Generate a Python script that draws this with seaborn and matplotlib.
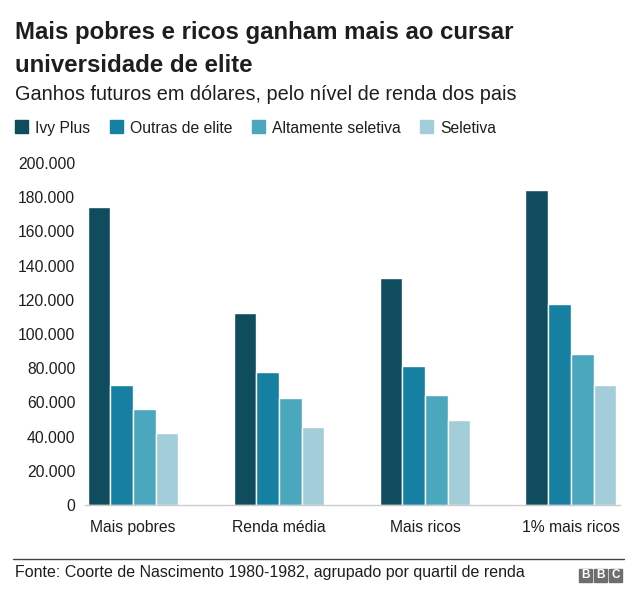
import pandas as pd
import matplotlib.pyplot as plt
import seaborn as sns
from matplotlib.patches import Rectangle
from matplotlib.lines import Line2D

# Data (earnings in dollars)
groups = ["Mais pobres", "Renda média", "Mais ricos", "1% mais ricos"]
series = ["Ivy Plus", "Outras de elite", "Altamente seletiva", "Seletiva"]
ivy_plus = [174000, 112500, 133000, 184500]
outras_elite = [70000, 77500, 81500, 117500]
altamente_seletiva = [56000, 62500, 64500, 88500]
seletiva = [42000, 45500, 50000, 70000]
y_ticks = [0, 20000, 40000, 60000, 80000, 100000, 120000, 140000, 160000, 180000, 200000]

colors = ["#0f4c5e", "#1680a3", "#4ba7bd", "#a2cdd9"]


def generate():
    rows = []
    for name, vals in zip(series, [ivy_plus, outras_elite, altamente_seletiva, seletiva]):
        for g, v in zip(groups, vals):
            rows.append({"Grupo": g, "Tipo": name, "Ganhos": v})
    df = pd.DataFrame(rows)

    sns.set_theme(style="white")
    plt.rcParams['font.family'] = ['Liberation Sans', 'DejaVu Sans']
    text_color = "#1e1e1e"

    W, H = 640, 603
    fig = plt.figure(figsize=(W / 100, H / 100), dpi=100)
    ax = fig.add_axes([85 / W, 98 / H, 535 / W, 342 / H])

    sns.barplot(data=df, x="Grupo", y="Ganhos", hue="Tipo", order=groups,
                hue_order=series, palette=colors, width=0.623, dodge=True,
                edgecolor="white", linewidth=1, saturation=1, errorbar=None,
                legend=False, ax=ax)

    ax.set_ylim(0, 200000)
    ax.set_xlim(-0.329, 3.336)
    ax.set_yticks(y_ticks)
    ax.set_yticklabels([f"{v:,.0f}".replace(",", ".") for v in y_ticks])
    ax.set_xlabel("")
    ax.set_ylabel("")
    ax.tick_params(axis="y", length=0, pad=7, labelsize=11.3, labelcolor=text_color)
    ax.tick_params(axis="x", length=0, pad=11, labelsize=11.3, labelcolor=text_color)
    for s in ["top", "right", "left"]:
        ax.spines[s].set_visible(False)
    ax.spines["bottom"].set_color("#cccccc")
    ax.spines["bottom"].set_linewidth(1)
    ax.grid(False)

    # Titles
    fig.text(15 / W, 1 - 39.5 / H, "Mais pobres e ricos ganham mais ao cursar",
             fontsize=17.3, fontweight="bold", color=text_color, va="baseline")
    fig.text(15 / W, 1 - 72.5 / H, "universidade de elite",
             fontsize=17.3, fontweight="bold", color=text_color, va="baseline")
    fig.text(15 / W, 1 - 99.5 / H, "Ganhos futuros em dólares, pelo nível de renda dos pais",
             fontsize=14.3, color=text_color, va="baseline")

    # Legend drawn by hand to match the reference layout
    legend_x = [15, 110, 252, 420]
    for lx, name, c in zip(legend_x, series, colors):
        fig.patches.append(Rectangle((lx / W, 1 - 133 / H), 13 / W, 13 / H,
                                     transform=fig.transFigure, color=c))
        fig.text((lx + 20) / W, 1 - 132.5 / H, name, fontsize=11.3,
                 color=text_color, va="baseline")

    # Footer
    fig.add_artist(Line2D([13 / W, 624 / W], [1 - 559 / H, 1 - 559 / H],
                          transform=fig.transFigure, color="#444444", lw=1))
    fig.text(15 / W, 1 - 576.5 / H,
             "Fonte: Coorte de Nascimento 1980-1982, agrupado por quartil de renda",
             fontsize=11.5, color=text_color, va="baseline")
    for i, letter in enumerate("BBC"):
        bx = 579 + i * 15
        fig.patches.append(Rectangle((bx / W, 1 - 582 / H), 13 / W, 13 / H,
                                     transform=fig.transFigure, color="#6e6e6e"))
        fig.text((bx + 6.5) / W, 1 - 575.5 / H, letter, fontsize=8.5,
                 fontweight="bold", color="white", ha="center", va="center")

    fig.savefig("out.png", dpi=100, facecolor="white")
    plt.close(fig)


if __name__ == "__main__":
    generate()
